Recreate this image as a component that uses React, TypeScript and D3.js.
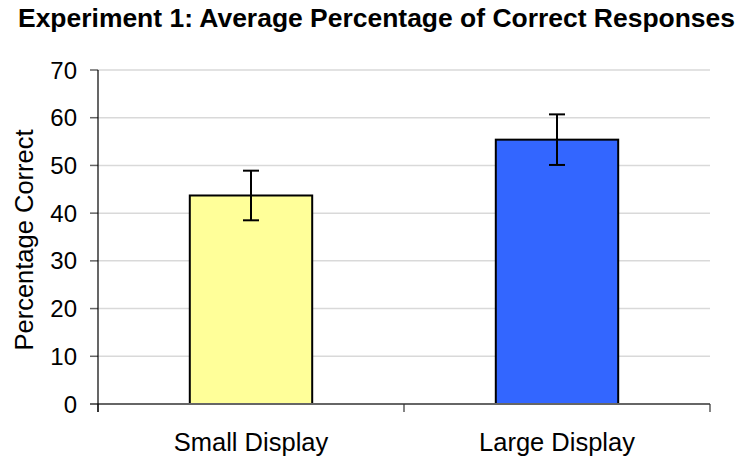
import React from "react";
import * as d3 from "d3";

const categories = ["Small Display", "Large Display"];
const values = [43.7, 55.4];
const errors = [5.2, 5.3];
const colors = ["#FFFF99", "#3366FF"];
const yTicks = [0, 10, 20, 30, 40, 50, 60, 70];

const W = 743, H = 457;
const M = { left: 98, right: 33, top: 70, bottom: 53 };

export default function App() {
  const x = d3.scaleBand<string>().domain(categories).range([M.left, W - M.right]).paddingInner(0).paddingOuter(0);
  const y = d3.scaleLinear().domain([0, 70]).range([H - M.bottom, M.top]);
  const bw = x.bandwidth() / 2.5;
  const font = "Arial, 'Liberation Sans', sans-serif";
  const y0 = y(0);
  return (
    <svg width={W} height={H} style={{ position: "absolute", left: 0, top: 0 }} fontFamily={font}>
      <rect width={W} height={H} fill="#fff" />
      <text x={18} y={27} fontSize={26} fontWeight="bold" textLength={717} lengthAdjust="spacingAndGlyphs">
        Experiment 1: Average Percentage of Correct Responses
      </text>
      {yTicks.map((t) => (
        <g key={t}>
          {t > 0 && <line x1={M.left} x2={W - M.right} y1={y(t)} y2={y(t)} stroke="#d9d9d9" strokeWidth={1.5} />}
          <line x1={M.left - 8} x2={M.left} y1={y(t)} y2={y(t)} stroke="#666" strokeWidth={1.5} />
          <text x={M.left - 21} y={y(t)} dy="0.36em" textAnchor="end" fontSize={24}>{t}</text>
        </g>
      ))}
      {categories.map((c, i) => {
        const cx = x(c)! + x.bandwidth() / 2;
        return (
          <g key={c}>
            <rect x={cx - bw / 2} y={y(values[i])} width={bw} height={y0 - y(values[i])} fill={colors[i]} stroke="#000" strokeWidth={2} />
            <line x1={cx} x2={cx} y1={y(values[i] + errors[i])} y2={y(values[i] - errors[i])} stroke="#000" strokeWidth={2} />
            <line x1={cx - 8} x2={cx + 8} y1={y(values[i] + errors[i])} y2={y(values[i] + errors[i])} stroke="#000" strokeWidth={2} />
            <line x1={cx - 8} x2={cx + 8} y1={y(values[i] - errors[i])} y2={y(values[i] - errors[i])} stroke="#000" strokeWidth={2} />
            <text x={cx} y={451} textAnchor="middle" fontSize={25.5}>{c}</text>
          </g>
        );
      })}
      <line x1={M.left - 8} x2={W - M.right} y1={y0} y2={y0} stroke="#666" strokeWidth={2} />
      {[0, 1, 2].map((k) => (
        <line key={k} x1={M.left + k * x.bandwidth()} x2={M.left + k * x.bandwidth()} y1={y0} y2={y0 + 8} stroke="#333" strokeWidth={1.2} />
      ))}
      <line x1={M.left} x2={M.left} y1={M.top} y2={y0 + 8} stroke="#000" strokeWidth={1.2} />
      <text transform={`translate(33,240) rotate(-90)`} textAnchor="middle" fontSize={25.5}>
        Percentage Correct
      </text>
    </svg>
  );
}
